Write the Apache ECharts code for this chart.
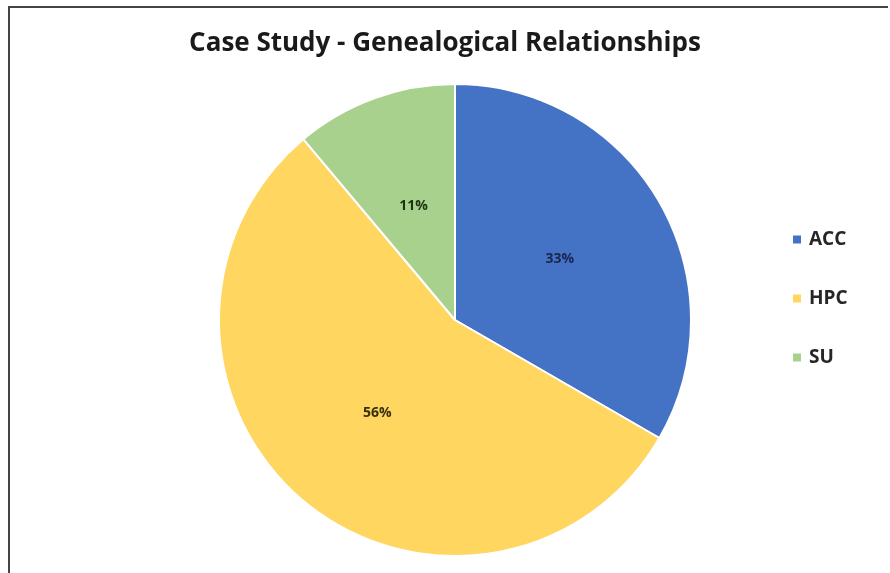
<!DOCTYPE html>
<html>
<head>
<meta charset="utf-8">
<script src="https://cdn.jsdelivr.net/npm/echarts@6/dist/echarts.min.js"></script>
<style>html,body{margin:0;padding:0;background:#fff;}#c{width:890px;height:573px;}</style>
</head>
<body>
<div id="c"></div>
<script>
const titleText = 'Case Study - Genealogical Relationships';
const categories = ['ACC', 'HPC', 'SU'];
const values = [3, 5, 1];
const colors = ['#4472C4', '#FFD660', '#A9D18E'];
const labelColors = ['#1a2550', '#3a2f10', '#1f3312'];

const chart = echarts.init(document.getElementById('c'));
chart.setOption({
  animation: false,
  backgroundColor: '#fff',
  title: {
    text: titleText,
    left: 'center',
    top: 26,
    textStyle: { fontFamily: 'Open Sans', fontWeight: 'bold', fontSize: 26, color: '#1a1a1a' }
  },
  legend: {
    orient: 'vertical',
    left: 786,
    top: 225,
    itemWidth: 10,
    itemHeight: 10,
    itemGap: 40,
    icon: 'rect',
    data: categories,
    textStyle: { fontFamily: 'Open Sans', fontWeight: 'bold', fontSize: 19, color: '#262626', padding: [0, 0, 0, 2] }
  },
  graphic: [
    { type: 'line', shape: { x1: 8, y1: 7, x2: 888, y2: 7 }, style: { stroke: '#444', lineWidth: 2 } },
    { type: 'line', shape: { x1: 9, y1: 6, x2: 9, y2: 573 }, style: { stroke: '#444', lineWidth: 2 } }
  ],
  series: [{
    type: 'pie',
    center: [455, 320],
    radius: [0, 236],
    startAngle: 90,
    clockwise: true,
    data: categories.map((c, i) => ({
      name: c,
      value: values[i],
      itemStyle: { color: colors[i] },
      label: { color: labelColors[i] }
    })),
    itemStyle: { borderColor: '#fff', borderWidth: 2 },
    label: {
      position: 'inside',
      formatter: p => Math.round(p.percent) + '%',
      fontFamily: 'Open Sans',
      fontWeight: 'bold',
      fontSize: 14
    },
    labelLine: { show: false },
    emphasis: { disabled: true }
  }]
});
</script>
</body>
</html>
